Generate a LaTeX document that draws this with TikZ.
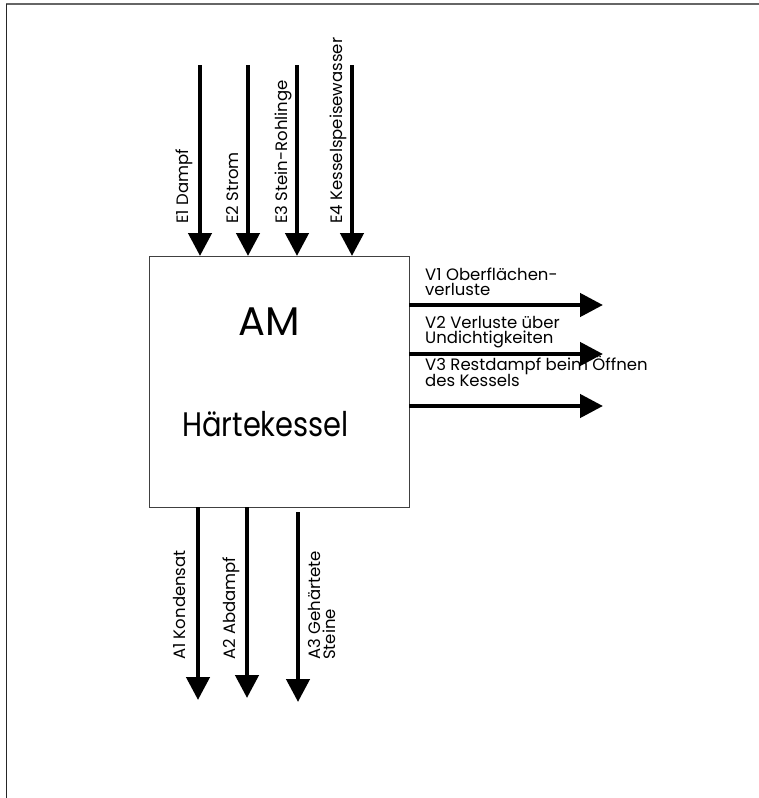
\documentclass[tikz,border=0pt]{standalone}
\usepackage{fontspec}
\setmainfont{Poppins}
\usetikzlibrary{arrows.meta}

\tikzset{
  flow/.style={line width=4.5pt, -{Triangle[length=23pt,width=23pt]}},
  lbl/.style={inner sep=0pt, font=\fontsize{16.5}{13}\selectfont},
  vlbl/.style={lbl, rotate=90, anchor=base west},
  hlbl/.style={lbl, anchor=base west},
  boxline/.style={draw=black!75, line width=0.9pt},
}

\begin{document}
\begin{tikzpicture}[x=1pt, y=-1pt]
  \useasboundingbox (0,0) rectangle (759,798);

  % sheet edges
  \draw[black!60, line width=1.2pt] (6,4) -- (759,4);
  \draw[black!85, line width=0.9pt] (6,4) -- (6,798);

  % process box
  \node[boxline, minimum width=260pt, minimum height=251pt, inner sep=0pt, anchor=north west]
    (box) at (149,256) {};
  \node[anchor=base west, inner sep=0pt, font=\fontsize{40}{40}\selectfont] (am) at (238,335) {AM};
  \node[anchor=base west, inner sep=0pt, font=\fontsize{34}{34}\selectfont] (name) at (182,436)
    {\scalebox{0.85}[1]{Härtekessel}};

  % inputs
  \coordinate (e1s) at (200,65);  \coordinate (e1t) at (200,256);
  \coordinate (e2s) at (248,65);  \coordinate (e2t) at (248,256);
  \coordinate (e3s) at (297,65);  \coordinate (e3t) at (297,256);
  \coordinate (e4s) at (352,65);  \coordinate (e4t) at (352,256);
  \draw[flow] (e1s) -- (e1t);
  \draw[flow] (e2s) -- (e2t);
  \draw[flow] (e3s) -- (e3t);
  \draw[flow] (e4s) -- (e4t);
  \node[vlbl] (e1) at (188,224) {E1 Dampf};
  \node[vlbl] (e2) at (238,224) {E2 Strom};
  \node[vlbl] (e3) at (287,224) {E3 Stein-Rohlinge};
  \node[vlbl] (e4) at (342,224) {E4 Kesselspeisewasser};

  % losses
  \coordinate (v1s) at (409,305); \coordinate (v1t) at (603,305);
  \coordinate (v2s) at (409,354); \coordinate (v2t) at (603,354);
  \coordinate (v3s) at (409,406); \coordinate (v3t) at (603,406);
  \draw[flow] (v1s) -- (v1t);
  \draw[flow] (v2s) -- (v2t);
  \draw[flow] (v3s) -- (v3t);
  \node[hlbl] (v1a) at (425,280) {V1 Oberflächen-};
  \node[hlbl] (v1b) at (425,295) {verluste};
  \node[hlbl] (v2a) at (425,328) {V2 Verluste über};
  \node[hlbl] (v2b) at (425,343) {Undichtigkeiten};
  \node[hlbl] (v3a) at (425,370) {V3 Restdampf beim Öffnen};
  \node[hlbl] (v3b) at (425,386) {des Kessels};

  % outputs
  \coordinate (a1s) at (198,507); \coordinate (a1t) at (198,700);
  \coordinate (a2s) at (247,507); \coordinate (a2t) at (247,698);
  \coordinate (a3s) at (298,512); \coordinate (a3t) at (298,702);
  \draw[flow] (a1s) -- (a1t);
  \draw[flow] (a2s) -- (a2t);
  \draw[flow] (a3s) -- (a3t);
  \node[vlbl] (a1) at (185,660) {A1 Kondensat};
  \node[vlbl] (a2) at (235,660) {A2 Abdampf};
  \node[vlbl] (a3a) at (320,660) {A3 Gehärtete};
  \node[vlbl] (a3b) at (335,660) {Steine};
\end{tikzpicture}
\end{document}
